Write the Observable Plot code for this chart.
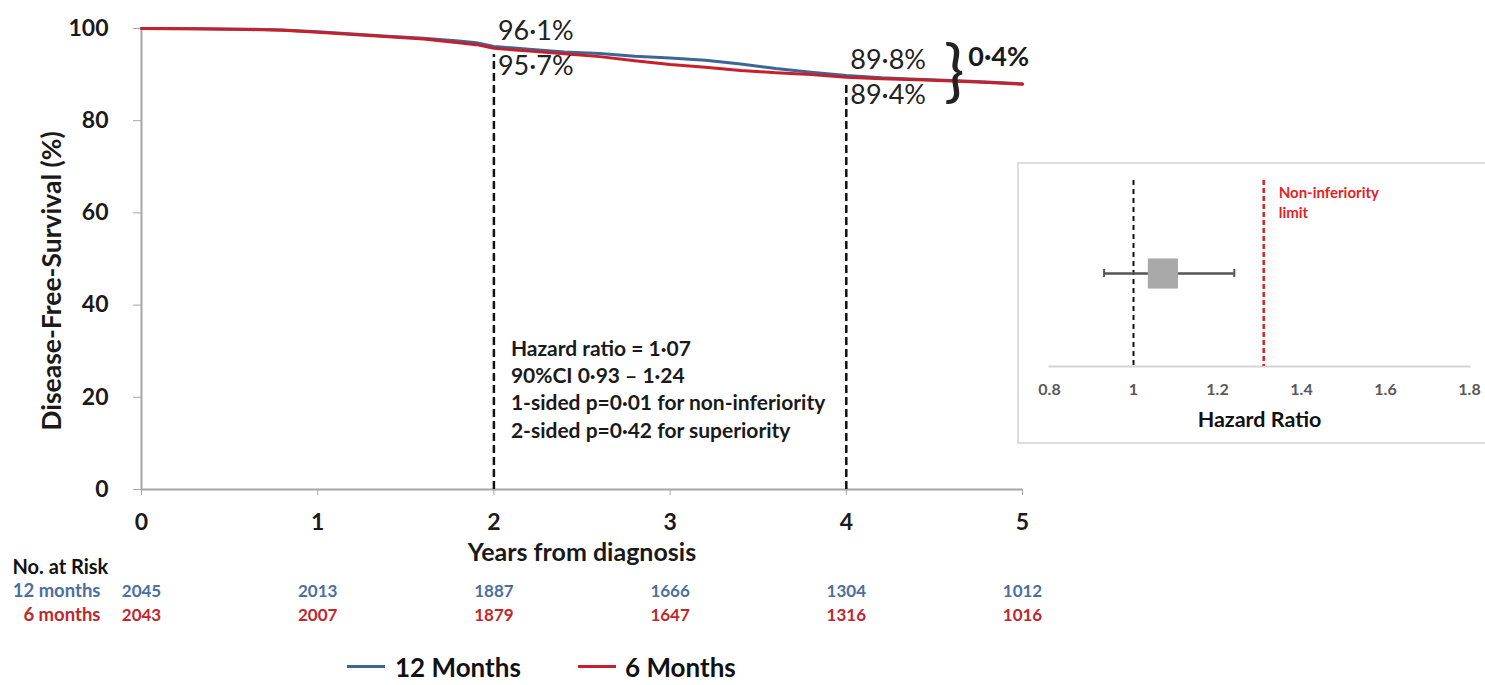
<!DOCTYPE html>
<html>
<head>
<meta charset="utf-8">
<script src="https://cdn.jsdelivr.net/npm/d3@7"></script>
<script src="https://cdn.jsdelivr.net/npm/@observablehq/plot@0.6"></script>
<style>
  body { margin: 0; background: #fff; font-family: Lato, "Open Sans", sans-serif; }
  #wrap { position: relative; width: 1485px; height: 685px; overflow: hidden; background: #fff; }
  .abs { position: absolute; }
  #inset { border: 2px solid #dcdcdc; width: 480px; height: 282px; box-sizing: border-box; }
  .key { position: absolute; font-weight: bold; font-size: 26px; color: #111; line-height: 1; }
  .swatch { position: absolute; height: 3px; width: 38px; }
</style>
</head>
<body>
<div id="wrap"></div>
<script>
// Kaplan–Meier disease-free survival estimates (%) by treatment duration
const years = [0, 0.3, 0.6, 0.8, 1.0, 1.2, 1.4, 1.6, 1.8, 1.9, 2.0, 2.2, 2.4, 2.6, 2.8, 3.0, 3.2, 3.4, 3.6, 3.8, 4.0, 4.2, 4.4, 4.6, 4.8, 5.0];
const dfs12 = [100, 99.95, 99.85, 99.7, 99.3, 98.8, 98.3, 97.9, 97.3, 96.9, 96.1, 95.5, 94.9, 94.6, 94.0, 93.6, 93.1, 92.3, 91.3, 90.5, 89.8, 89.3, 89.0, 88.7, 88.4, 88.0];
const dfs6  = [100, 99.95, 99.8, 99.6, 99.2, 98.7, 98.2, 97.7, 96.9, 96.5, 95.7, 95.1, 94.5, 93.9, 93.0, 92.2, 91.6, 90.9, 90.4, 90.0, 89.4, 89.1, 88.9, 88.6, 88.3, 87.9];

const arms = ["12 months", "6 months"];
const legendNames = ["12 Months", "6 Months"];
const lineColors = ["#3d6696", "#c81f2c"];
const textColors = ["#4a6fa0", "#c0272d"];

// landmark estimates at 2 and 4 years
const landmarkYears = [2, 4];
const landmark12 = [96.1, 89.8];
const landmark6 = [95.7, 89.4];

// number at risk
const riskYears = [0, 1, 2, 3, 4, 5];
const risk12 = [2045, 2013, 1887, 1666, 1304, 1012];
const risk6 = [2043, 2007, 1879, 1647, 1316, 1016];

const yTicks = [0, 20, 40, 60, 80, 100];

const statsLines = [
  "Hazard ratio = 1·07",
  "90%CI 0·93 – 1·24",
  "1-sided p=0·01 for non-inferiority",
  "2-sided p=0·42 for superiority"
];

// hazard ratio forest panel
const hr = 1.07, hrLow = 0.93, hrHigh = 1.24, niLimit = 1.31;
const hrTicks = [0.8, 1, 1.2, 1.4, 1.6, 1.8];

const font = "Lato, 'Open Sans', sans-serif";
const fmt = v => v.toFixed(1).replace(".", "·") + "%";

const curves = [
  ...years.map((t, i) => ({arm: arms[0], t, v: dfs12[i]})),
  ...years.map((t, i) => ({arm: arms[1], t, v: dfs6[i]}))
];
const landmarks = landmarkYears.map((t, i) => ({t, v12: landmark12[i], v6: landmark6[i]}));
const gap = [{t: landmarkYears[1], mid: (landmark12[1] + landmark6[1]) / 2, diff: landmark12[1] - landmark6[1]}];
const riskRows = [
  ...riskYears.map((t, i) => ({arm: arms[0], t, n: risk12[i]})),
  ...riskYears.map((t, i) => ({arm: arms[1], t, n: risk6[i]}))
];

const wrap = document.getElementById("wrap");

// main survival plot
const main = Plot.plot({
  width: 1060, height: 560,
  marginLeft: 141, marginRight: 38, marginTop: 28, marginBottom: 71,
  style: {fontFamily: font, fontWeight: "bold", background: "transparent", overflow: "visible"},
  x: {domain: [0, 5]},
  y: {domain: [0, 100]},
  color: {domain: arms, range: lineColors},
  marks: [
    Plot.ruleX([0], {stroke: "#a6a6a6", strokeWidth: 2}),
    Plot.ruleY([0], {stroke: "#a6a6a6", strokeWidth: 2}),
    Plot.axisY({ticks: yTicks, tickSize: 8, tickPadding: 25, stroke: "#a6a6a6", fill: "#1a1a1a", fontSize: 23, label: null}),
    Plot.axisX({ticks: riskYears, tickSize: 6, tickPadding: 18, tickFormat: d => String(d), stroke: "#a6a6a6", fill: "#1a1a1a", fontSize: 23, label: null}),
    Plot.text(["Disease-Free-Survival (%)"], {frameAnchor: "left", textAnchor: "middle", lineAnchor: "middle", rotate: -90, dx: -89, dy: 22, fontSize: 26.5, fill: "#1a1a1a"}),
    Plot.text(["Years from diagnosis"], {frameAnchor: "bottom", lineAnchor: "middle", dy: 63, fontSize: 25, fill: "#1a1a1a"}),
    Plot.ruleX(landmarks, {x: "t", y1: 0, y2: "v12", stroke: "#111", strokeWidth: 2.5, strokeDasharray: "8,4", insetBottom: -8}),
    Plot.line(curves, {x: "t", y: "v", z: "arm", stroke: "arm", strokeWidth: 3}),
    Plot.text(landmarks, {x: "t", y: "v12", text: d => fmt(d.v12), dx: 4, dy: -15, textAnchor: "start", fontSize: 27, fontWeight: "normal", fill: "#222"}),
    Plot.text(landmarks, {x: "t", y: "v6", text: d => fmt(d.v6), dx: 4, dy: 18, textAnchor: "start", fontSize: 27, fontWeight: "normal", fill: "#222"}),
    Plot.text(gap, {x: "t", y: "mid", text: () => "}", dx: 108, dy: -4, fontSize: 68, fontWeight: "normal", fill: "#222"}),
    Plot.text(gap, {x: "t", y: "mid", text: d => fmt(d.diff), dx: 122, dy: -19, textAnchor: "start", fontSize: 27, fill: "#1a1a1a"}),
    Plot.text([statsLines.join("\n")], {x: () => landmarkYears[0], frameAnchor: "bottom", dx: 17, dy: -52, lineAnchor: "bottom", lineHeight: 1.29, textAnchor: "start", fontSize: 21, fill: "#1a1a1a"})
  ]
});
main.classList.add("abs");
main.style.left = "0px";
main.style.top = "0px";
wrap.appendChild(main);

// number-at-risk table aligned with the time axis
const risk = Plot.plot({
  width: 1060, height: 70,
  marginLeft: 141, marginRight: 38, marginTop: 11, marginBottom: 10,
  style: {fontFamily: font, fontWeight: "bold", background: "transparent", overflow: "visible"},
  x: {domain: [0, 5], axis: null},
  y: {type: "point", domain: ["No. at Risk", ...arms], padding: 0, axis: null},
  color: {domain: arms, range: textColors},
  marks: [
    Plot.text(riskRows, {x: "t", y: "arm", text: d => String(d.n), fill: "arm", fontSize: 17}),
    Plot.text(arms, {x: () => 0, y: d => d, text: d => d, fill: d => d, dx: -41, textAnchor: "end", fontSize: 18.5}),
    Plot.text(["No. at Risk"], {x: () => 0, y: d => d, text: d => d, dx: -129, textAnchor: "start", fontSize: 20, fill: "#111"})
  ]
});
risk.classList.add("abs");
risk.style.left = "0px";
risk.style.top = "555px";
wrap.appendChild(risk);

// legend
const keyPos = [{line: 347, text: 395}, {line: 578, text: 625}];
legendNames.forEach((name, i) => {
  const sw = document.createElement("div");
  sw.className = "swatch";
  sw.style.left = keyPos[i].line + "px";
  sw.style.top = "665px";
  sw.style.background = lineColors[i];
  wrap.appendChild(sw);
  const lab = document.createElement("div");
  lab.className = "key";
  lab.style.left = keyPos[i].text + "px";
  lab.style.top = "654px";
  lab.textContent = name;
  wrap.appendChild(lab);
});

// hazard ratio inset
const box = document.createElement("div");
box.id = "inset";
box.className = "abs";
box.style.left = "1017px";
box.style.top = "162px";
wrap.appendChild(box);

const inset = Plot.plot({
  width: 470, height: 284,
  marginLeft: 28, marginRight: 22, marginTop: 14, marginBottom: 84,
  style: {fontFamily: font, fontWeight: "bold", background: "transparent", overflow: "visible"},
  x: {domain: [0.8, 1.8]},
  y: {type: "band", domain: ["HR"], padding: 0, axis: null},
  marks: [
    Plot.frame({anchor: "bottom", stroke: "#d4d4d4", strokeWidth: 2}),
    Plot.ruleX([1], {stroke: "#111", strokeWidth: 2, strokeDasharray: "5,4"}),
    Plot.ruleX([niLimit], {stroke: "#e31e24", strokeWidth: 2.5, strokeDasharray: "5,3"}),
    Plot.text(["Non-inferiority\nlimit"], {x: () => niLimit, frameAnchor: "top", dx: 15, dy: 4, lineAnchor: "top", lineHeight: 1.3, textAnchor: "start", fill: "#e31e24", fontSize: 15}),
    Plot.ruleY(["HR"], {x1: () => hrLow, x2: () => hrHigh, stroke: "#555", strokeWidth: 2.5}),
    Plot.tickX([hrLow, hrHigh], {x: d => d, y: () => "HR", stroke: "#555", strokeWidth: 2, insetTop: 89, insetBottom: 89}),
    Plot.dot([hr], {x: d => d, y: () => "HR", symbol: "square", r: 17, fill: "#a9a9a9", stroke: "none"}),
    Plot.axisX({ticks: hrTicks, tickSize: 0, tickPadding: 17, tickFormat: d => String(d), fontSize: 16, fill: "#595959", label: null}),
    Plot.text(["Hazard Ratio"], {frameAnchor: "bottom", lineAnchor: "middle", dy: 54, fontSize: 21.5, fill: "#111"})
  ]
});
inset.classList.add("abs");
inset.style.left = "2px";
inset.style.top = "2px";
box.appendChild(inset);
</script>
</body>
</html>
